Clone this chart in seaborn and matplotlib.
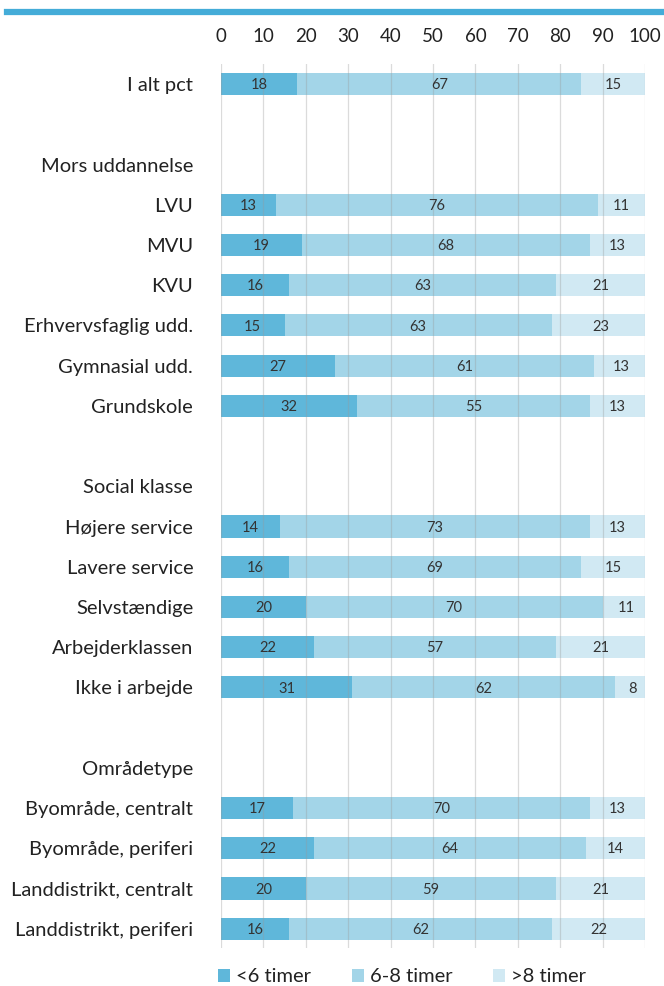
import matplotlib
matplotlib.use("Agg")
import matplotlib.pyplot as plt
import seaborn as sns
import pandas as pd
import numpy as np
from matplotlib.patches import Patch

# Row labels in display order (blank strings give spacer rows, headers carry no bars)
rows = ["I alt pct", " ", "Mors uddannelse", "LVU", "MVU", "KVU",
        "Erhvervsfaglig udd.", "Gymnasial udd.", "Grundskole", "  ",
        "Social klasse", "Højere service", "Lavere service", "Selvstændige",
        "Arbejderklassen", "Ikke i arbejde", "   ", "Områdetype",
        "Byområde, centralt", "Byområde, periferi", "Landdistrikt, centralt",
        "Landdistrikt, periferi"]

groups = ["I alt pct", "LVU", "MVU", "KVU", "Erhvervsfaglig udd.",
          "Gymnasial udd.", "Grundskole", "Højere service", "Lavere service",
          "Selvstændige", "Arbejderklassen", "Ikke i arbejde",
          "Byområde, centralt", "Byområde, periferi", "Landdistrikt, centralt",
          "Landdistrikt, periferi"]
under6 = [18, 13, 19, 16, 15, 27, 32, 14, 16, 20, 22, 31, 17, 22, 20, 16]
six_to_8 = [67, 76, 68, 63, 63, 61, 55, 73, 69, 70, 57, 62, 70, 64, 59, 62]
over8 = [15, 11, 13, 21, 23, 13, 13, 13, 15, 11, 21, 8, 13, 14, 21, 22]

series_names = ["<6 timer", "6-8 timer", ">8 timer"]
colors = ["#5fb7da", "#a3d5e8", "#d1e9f3"]
ticks = [0, 10, 20, 30, 40, 50, 60, 70, 80, 90, 100]

df = pd.DataFrame({"group": groups, "a": under6, "b": six_to_8, "c": over8})
df["ab"] = df["a"] + df["b"]
df["abc"] = df["ab"] + df["c"]

font = "Lato"
plt.rcParams["font.family"] = [font, "DejaVu Sans"]

fig = plt.figure(figsize=(6.64, 9.86), dpi=100)
ax = fig.add_axes([221 / 664, 1 - 948 / 986, (645 - 221) / 664, (948 - 64) / 986])

# Stacked bars: draw cumulative totals from the outside in
for col, colr in zip(["abc", "ab", "a"], colors[::-1]):
    sns.barplot(data=df, x=col, y="group", order=rows, color=colr,
                width=0.55, ax=ax, saturation=1, errorbar=None, orient="h")

pos = {r: i for i, r in enumerate(rows)}
for _, r in df.iterrows():
    y = pos[r["group"]]
    starts = [0, r["a"], r["ab"]]
    for s, w in zip(starts, [r["a"], r["b"], r["c"]]):
        ax.text(s + w / 2, y + 0.03, f"{w}", ha="center", va="center",
                fontsize=10.5, color="#333333")

ax.set_xlim(0, 100)
ax.set_ylim(len(rows) - 0.52, -0.5)
ax.set_xticks(ticks)
ax.xaxis.tick_top()
ax.tick_params(axis="x", length=0, labelsize=13.5, pad=14, colors="#222222")
ax.tick_params(axis="y", length=0, labelsize=14.5, pad=20, colors="#222222")
ax.set_xlabel("")
ax.set_ylabel("")
for s in ax.spines.values():
    s.set_visible(False)
ax.set_axisbelow(False)
ax.grid(axis="x", color="#999999", alpha=0.35, linewidth=0.9, zorder=5)
ax.grid(axis="y", visible=False)

# Accent line at the top of the figure
fig.add_artist(plt.Line2D([7 / 664, 1], [1 - 12 / 986, 1 - 12 / 986],
                          color="#44acd8", linewidth=4.5))

handles = [Patch(facecolor=c, edgecolor="none") for c in colors]
fig.legend(handles, series_names, loc="center", bbox_to_anchor=(402 / 664, 1 - 977 / 986),
           ncol=3, frameon=False, fontsize=14.5, handlelength=0.6, handleheight=0.6,
           handletextpad=0.3, columnspacing=2.0, labelcolor="#222222")

fig.savefig("out.png", dpi=100)
